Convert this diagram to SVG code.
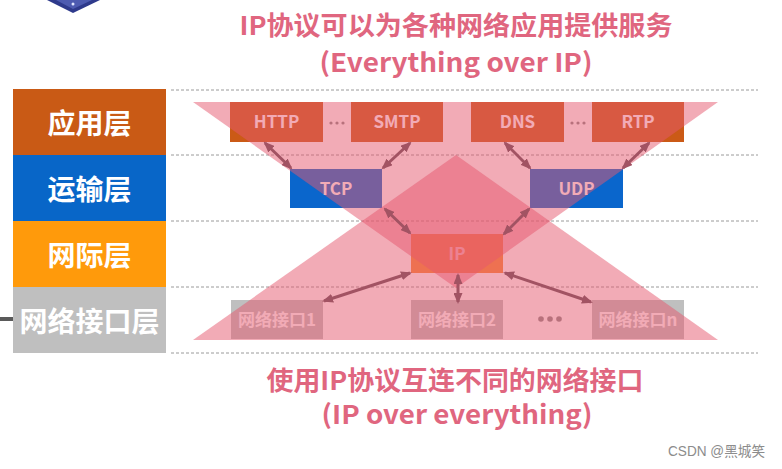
<svg xmlns="http://www.w3.org/2000/svg" width="782" height="469" viewBox="0 0 782 469">
<style>
.bg{fill:#fff}
.dash{stroke:#9a9a9a;stroke-width:1;stroke-dasharray:3 2;fill:none}
.layer-t{font-family:"Noto Sans CJK SC","Liberation Sans",sans-serif;font-weight:bold;font-size:28px;fill:#fff;text-anchor:middle}
.box-t{font-family:"Noto Sans CJK SC","Liberation Sans",sans-serif;font-weight:bold;font-size:17px;fill:#fff;text-anchor:middle}
.title{font-family:"Noto Sans CJK SC","Liberation Sans",sans-serif;font-weight:bold;font-size:26px;fill:#E0667F;text-anchor:middle}
.tri{fill:#E5586E;fill-opacity:0.5}
.dot{fill:#8a8a8a}
.conn line{stroke:#A25363;stroke-width:3;marker-start:url(#ah);marker-end:url(#ah)}
.wm{font-family:"Liberation Sans","Noto Sans CJK SC",sans-serif;font-size:14px;fill:#8c8c8c}
</style>
<defs>
<marker id="ah" markerUnits="userSpaceOnUse" markerWidth="11" markerHeight="9" refX="9" refY="4.5" orient="auto-start-reverse">
<path d="M0,0 L11,4.5 L0,9 z" fill="#A25363"/>
</marker>
</defs>
<rect class="bg" x="0" y="0" width="782" height="469"/>

<g id="logo">
<polygon points="47,0 100,0 73,13" fill="#2E3A8C"/>
<polygon points="56,0 92,0 73,9" fill="#4D5BB0"/>
<circle cx="73" cy="4" r="1.5" fill="#dfe6ff"/>
</g>
<rect x="0" y="317" width="13" height="4" fill="#5a5a5a"/>

<g id="layer-app"><rect x="13" y="89" width="153" height="66" fill="#C95A15"/><text class="layer-t" x="89.5" y="134">应用层</text></g>
<g id="layer-transport"><rect x="13" y="155" width="153" height="66" fill="#0866C8"/><text class="layer-t" x="89.5" y="200">运输层</text></g>
<g id="layer-internet"><rect x="13" y="221" width="153" height="66" fill="#FF9A0B"/><text class="layer-t" x="89.5" y="266">网际层</text></g>
<g id="layer-link"><rect x="13" y="287" width="153" height="66" fill="#BFBFBF"/><text class="layer-t" x="89.5" y="332">网络接口层</text></g>

<g id="dashes">
<line class="dash" x1="171" y1="90" x2="758" y2="90"/>
<line class="dash" x1="171" y1="155" x2="758" y2="155"/>
<line class="dash" x1="171" y1="221" x2="758" y2="221"/>
<line class="dash" x1="171" y1="287" x2="758" y2="287"/>
<line class="dash" x1="171" y1="353" x2="758" y2="353"/>
</g>

<g id="HTTP"><rect x="230" y="102" width="93" height="40" fill="#CB5A16"/><text class="box-t" x="276.5" y="128">HTTP</text></g>
<g id="SMTP"><rect x="351" y="102" width="92" height="40" fill="#CB5A16"/><text class="box-t" x="397" y="128">SMTP</text></g>
<g id="DNS"><rect x="471" y="102" width="93" height="40" fill="#CB5A16"/><text class="box-t" x="517.5" y="128">DNS</text></g>
<g id="RTP"><rect x="592" y="102" width="92" height="40" fill="#CB5A16"/><text class="box-t" x="638" y="128">RTP</text></g>
<g id="TCP"><rect x="290" y="169" width="92" height="39" fill="#0A66CC"/><text class="box-t" x="336" y="194.5">TCP</text></g>
<g id="UDP"><rect x="530" y="169" width="93" height="39" fill="#0A66CC"/><text class="box-t" x="576.5" y="194.5">UDP</text></g>
<g id="IP"><rect x="411" y="234" width="92" height="39" fill="#F68A35"/><text class="box-t" x="457" y="259.5">IP</text></g>
<g id="if1"><rect x="231" y="300" width="92" height="39" fill="#BFBFBF"/><text class="box-t" x="277" y="325.5">网络接口1</text></g>
<g id="if2"><rect x="411" y="300" width="92" height="39" fill="#BFBFBF"/><text class="box-t" x="457" y="325.5">网络接口2</text></g>
<g id="ifn"><rect x="592" y="300" width="92" height="39" fill="#BFBFBF"/><text class="box-t" x="638" y="325.5">网络接口n</text></g>

<g id="dots">
<circle class="dot" cx="331" cy="123" r="1.6"/><circle class="dot" cx="337" cy="123" r="1.6"/><circle class="dot" cx="343" cy="123" r="1.6"/>
<circle class="dot" cx="572" cy="123" r="1.6"/><circle class="dot" cx="578" cy="123" r="1.6"/><circle class="dot" cx="584" cy="123" r="1.6"/>
<circle class="dot" cx="541" cy="319" r="2.8"/><circle class="dot" cx="550" cy="319" r="2.8"/><circle class="dot" cx="559" cy="319" r="2.8"/>
</g>

<g id="triangles">
<polygon class="tri" points="193,102 718,102 456,288"/>
<polygon class="tri" points="456,155 718,340 193,340"/>
</g>

<g id="connectors" class="conn">
<line x1="265" y1="143" x2="291" y2="168"/>
<line x1="410" y1="143" x2="383" y2="168"/>
<line x1="505" y1="143" x2="530" y2="168"/>
<line x1="649" y1="143" x2="623" y2="168"/>
<line x1="385" y1="209" x2="410" y2="233"/>
<line x1="529" y1="209" x2="504" y2="234"/>
<line x1="410" y1="273" x2="324" y2="301"/>
<line x1="458" y1="275" x2="458" y2="302"/>
<line x1="505" y1="273" x2="591" y2="302"/>
</g>

<g id="titles">
<text class="title" x="456" y="35" textLength="433" lengthAdjust="spacingAndGlyphs">IP协议可以为各种网络应用提供服务</text>
<text class="title" x="456" y="72" textLength="273" lengthAdjust="spacingAndGlyphs">(Everything over IP)</text>
<text class="title" x="455" y="390" textLength="377" lengthAdjust="spacingAndGlyphs">使用IP协议互连不同的网络接口</text>
<text class="title" x="457" y="424" textLength="271" lengthAdjust="spacingAndGlyphs">(IP over everything)</text>
</g>
<text class="wm" x="668" y="456" textLength="97" lengthAdjust="spacingAndGlyphs">CSDN @黑城笑</text>
</svg>
